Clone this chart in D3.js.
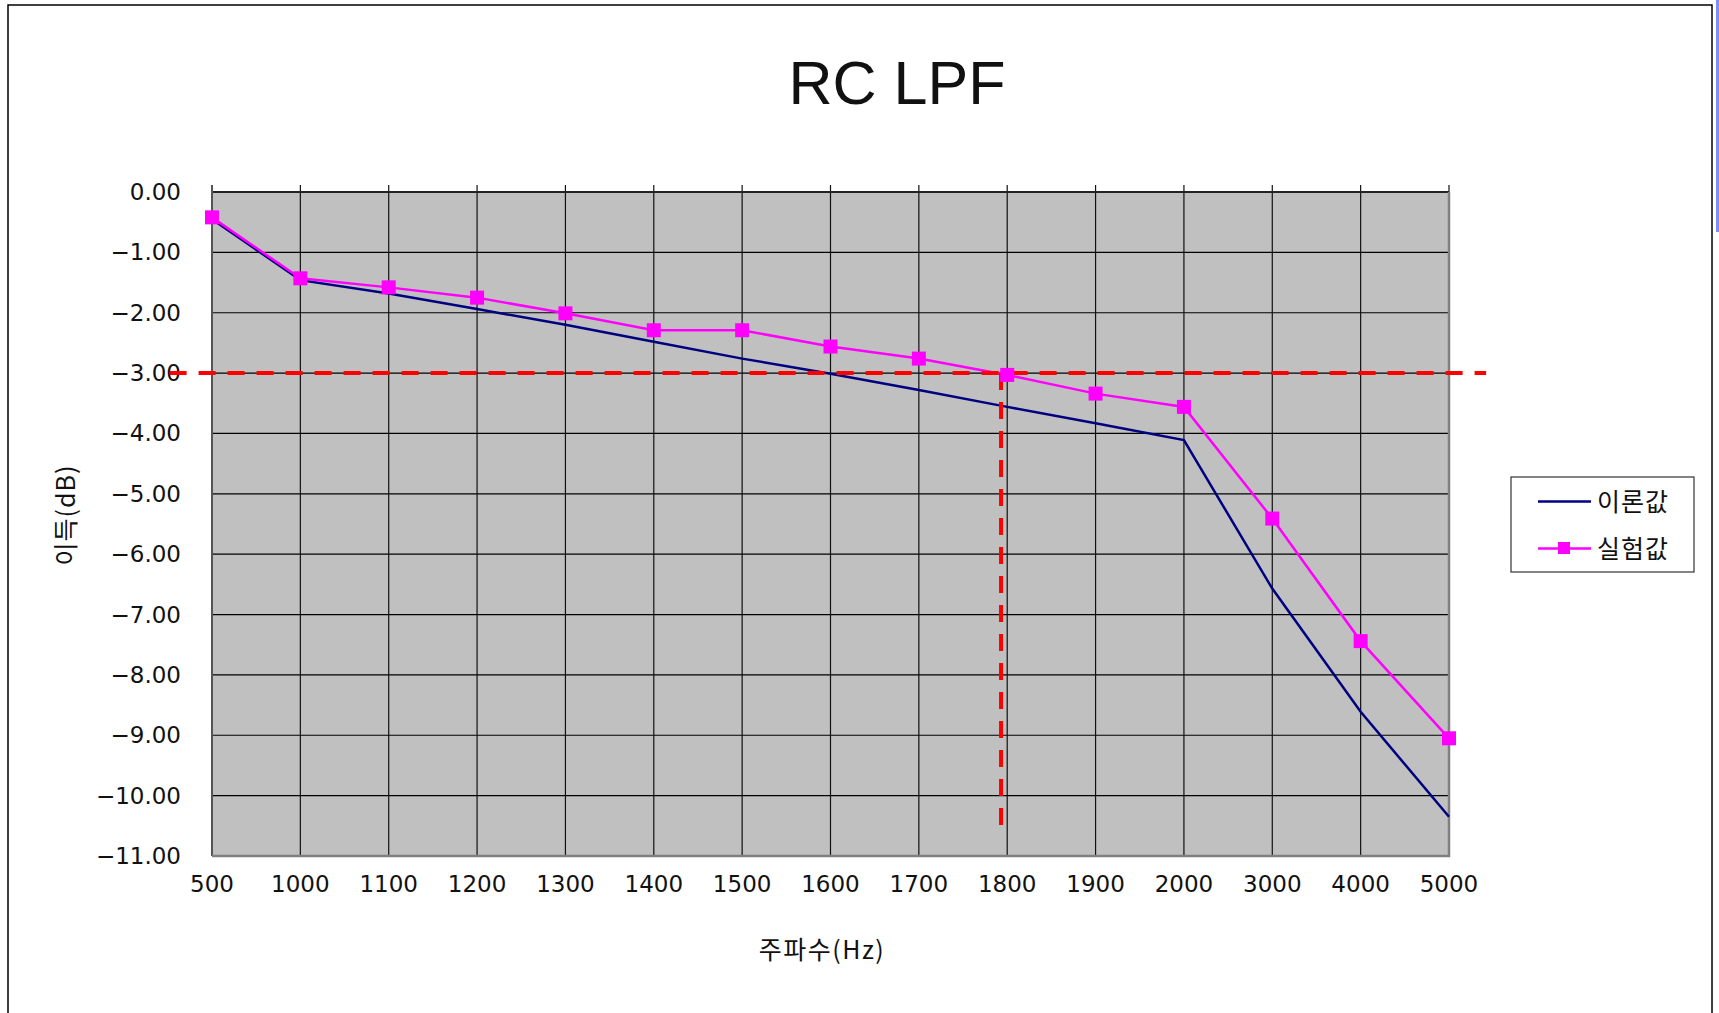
<!DOCTYPE html>
<html>
<head>
<meta charset="utf-8">
<script src="https://cdn.jsdelivr.net/npm/d3@7"></script>
<style>
  html, body { margin: 0; padding: 0; background: #ffffff; }
  svg { display: block; }
  text { font-family: "DejaVu Sans", "Noto Sans CJK KR", sans-serif; fill: #111; }
  .kr { font-family: "Noto Sans CJK KR", "DejaVu Sans", sans-serif; }
  .ttl { font-family: "Liberation Sans", sans-serif; }
</style>
</head>
<body>
<script>
// ---- data ----
const categories = ["500","1000","1100","1200","1300","1400","1500","1600","1700","1800","1900","2000","3000","4000","5000"];
const theory     = [-0.45,-1.46,-1.68,-1.94,-2.20,-2.48,-2.76,-3.01,-3.28,-3.56,-3.83,-4.11,-6.57,-8.61,-10.35];
const measured   = [-0.42,-1.43,-1.58,-1.75,-2.01,-2.29,-2.29,-2.56,-2.76,-3.03,-3.34,-3.56,-5.41,-7.44,-9.05];
const yTicks     = [0,-1,-2,-3,-4,-5,-6,-7,-8,-9,-10,-11];
const seriesNames = ["이론값","실험값"];
const titleText = "RC LPF";
const xTitle = "주파수(Hz)";
const yTitle = "이득(dB)";
// -3 dB guide lines (in category-index units)
const cutoffLevel = -3;
const cutoffIndex = 8.93;
const hGuideRange = [-0.48, 14.42];
const vGuideBottom = -10.55;

const W = 1719, H = 1013;
const svg = d3.select("body").append("svg").attr("width", W).attr("height", H);

// outer frame
svg.append("rect").attr("x", 8).attr("y", 5).attr("width", 1704).attr("height", H + 20)
  .attr("fill", "#fff").attr("stroke", "#000").attr("stroke-width", 1.5);
svg.append("rect").attr("x", 1716).attr("y", 0).attr("width", 3).attr("height", 232).attr("fill", "#7f90f0");

const plot = {left: 212, right: 1449, top: 192, bottom: 856};
const x = d3.scalePoint().domain(categories).range([plot.left, plot.right]).padding(0);
const y = d3.scaleLinear().domain([-11, 0]).range([plot.bottom, plot.top]);
const step = x.step();
const xIdx = i => plot.left + i * step;

// plot background
svg.append("rect").attr("x", plot.left).attr("y", plot.top)
  .attr("width", plot.right - plot.left).attr("height", plot.bottom - plot.top)
  .attr("fill", "#c0c0c0");

// gridlines
const g = svg.append("g");
g.selectAll(".hg").data(yTicks).join("line")
  .attr("x1", plot.left).attr("x2", plot.right)
  .attr("y1", d => y(d)).attr("y2", d => y(d))
  .attr("stroke", "#000").attr("stroke-width", 1.2);
g.selectAll(".vg").data(categories).join("line")
  .attr("x1", d => x(d)).attr("x2", d => x(d))
  .attr("y1", plot.top - 7).attr("y2", plot.bottom)
  .attr("stroke", "#111").attr("stroke-width", 1.2);

// borders
svg.append("line").attr("x1", plot.left).attr("x2", plot.right).attr("y1", plot.top).attr("y2", plot.top)
  .attr("stroke", "#222").attr("stroke-width", 2);
svg.append("line").attr("x1", plot.left).attr("x2", plot.left).attr("y1", plot.top - 7).attr("y2", plot.bottom)
  .attr("stroke", "#555").attr("stroke-width", 2);
svg.append("line").attr("x1", plot.right).attr("x2", plot.right).attr("y1", plot.top).attr("y2", plot.bottom + 1)
  .attr("stroke", "#808080").attr("stroke-width", 2.5);
svg.append("line").attr("x1", plot.left).attr("x2", plot.right + 1).attr("y1", plot.bottom).attr("y2", plot.bottom)
  .attr("stroke", "#808080").attr("stroke-width", 2.5);

// y tick labels
const fmt = d => (d < 0 ? "\u2212" : "") + Math.abs(d).toFixed(2);
svg.selectAll(".yl").data(yTicks).join("text")
  .attr("x", 181).attr("y", d => y(d) + 8)
  .attr("text-anchor", "end").attr("font-size", 23)
  .text(fmt);

// x tick labels
svg.selectAll(".xl").data(categories).join("text")
  .attr("x", d => x(d)).attr("y", 892)
  .attr("text-anchor", "middle").attr("font-size", 23)
  .text(d => d);

// title
svg.append("text").attr("class", "ttl").attr("x", 897).attr("y", 104).attr("text-anchor", "middle")
  .attr("font-size", 61).attr("fill", "#000").text(titleText);

// axis titles
svg.append("text").attr("class", "kr").attr("x", 822).attr("y", 959).attr("text-anchor", "middle")
  .attr("font-size", 25).attr("letter-spacing", 1.5).text(xTitle);
svg.append("text").attr("class", "kr").attr("transform", "translate(75,515) rotate(-90)")
  .attr("text-anchor", "middle").attr("font-size", 25).attr("letter-spacing", 1).text(yTitle);

// series lines
const line = d3.line().x((d, i) => x(categories[i])).y(d => y(d));
svg.append("path").datum(theory).attr("d", line)
  .attr("fill", "none").attr("stroke", "#000080").attr("stroke-width", 2.5);
svg.append("path").datum(measured).attr("d", line)
  .attr("fill", "none").attr("stroke", "#ff00ff").attr("stroke-width", 2.5);

// guide lines
svg.append("line").attr("x1", xIdx(hGuideRange[0])).attr("x2", xIdx(hGuideRange[1]))
  .attr("y1", y(cutoffLevel)).attr("y2", y(cutoffLevel))
  .attr("stroke", "#ff0000").attr("stroke-width", 4).attr("stroke-dasharray", "17,12");
svg.append("line").attr("x1", xIdx(cutoffIndex)).attr("x2", xIdx(cutoffIndex))
  .attr("y1", y(cutoffLevel)).attr("y2", y(vGuideBottom))
  .attr("stroke", "#ff0000").attr("stroke-width", 4).attr("stroke-dasharray", "17,12");

// markers
svg.selectAll(".mk").data(measured).join("rect")
  .attr("x", (d, i) => x(categories[i]) - 7).attr("y", d => y(d) - 7)
  .attr("width", 14).attr("height", 14).attr("fill", "#ff00ff");

// legend
const lg = svg.append("g");
lg.append("rect").attr("x", 1511).attr("y", 477).attr("width", 183).attr("height", 95)
  .attr("fill", "#fff").attr("stroke", "#333").attr("stroke-width", 1.2);
lg.append("line").attr("x1", 1538).attr("x2", 1591).attr("y1", 501.5).attr("y2", 501.5)
  .attr("stroke", "#000080").attr("stroke-width", 2.5);
lg.append("line").attr("x1", 1538).attr("x2", 1591).attr("y1", 548.5).attr("y2", 548.5)
  .attr("stroke", "#ff00ff").attr("stroke-width", 2.5);
lg.append("rect").attr("x", 1558).attr("y", 542).attr("width", 12).attr("height", 12).attr("fill", "#ff00ff");
lg.append("text").attr("class", "kr").attr("x", 1597).attr("y", 511).attr("font-size", 25).attr("letter-spacing", 1).text(seriesNames[0]);
lg.append("text").attr("class", "kr").attr("x", 1597).attr("y", 558).attr("font-size", 25).attr("letter-spacing", 1).text(seriesNames[1]);
</script>
</body>
</html>
